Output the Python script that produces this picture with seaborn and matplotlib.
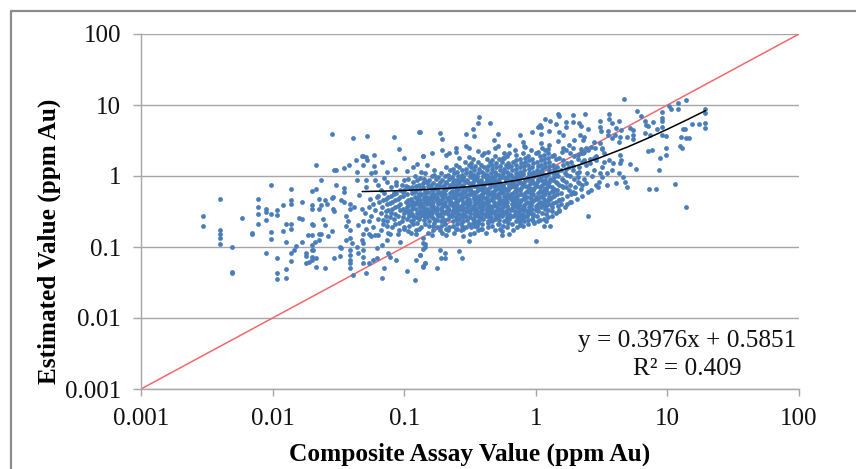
import matplotlib
matplotlib.use("Agg")
import matplotlib.pyplot as plt
import numpy as np
import pandas as pd
import seaborn as sns
from matplotlib.lines import Line2D

W, H = 856, 469

# axis ticks
tick_values = [0.001, 0.01, 0.1, 1, 10, 100]
tick_labels = ["0.001", "0.01", "0.1", "1", "10", "100"]

# one-to-one reference line and the linear trend
ref_line = [0.001, 100]
trend_x = [0.048, 0.07, 0.1, 0.2, 0.3, 0.5, 0.7, 1, 1.5, 2, 3, 5, 7, 10, 14, 19.5]
trend_y = [0.604, 0.613, 0.625, 0.665, 0.704, 0.784, 0.863, 0.983, 1.18, 1.38, 1.78, 2.57, 3.37, 4.56, 6.15, 8.34]

# samples, as (log10 assay, log10 estimate)
low_tail = [
    (-2.53, -0.57), (-2.53, -0.70), (-2.40, -0.33), (-2.40, -0.76), (-2.40, -0.82), (-2.40, -0.88), (-2.40, -0.96),
    (-2.31, -1.00), (-2.31, -1.35), (-2.31, -1.37), (-2.23, -0.59), (-2.16, -0.80), (-2.16, -0.81), (-2.11, -0.33),
    (-2.11, -0.43), (-2.11, -0.54), (-2.11, -0.67), (-2.05, -0.46), (-2.05, -0.51), (-2.05, -0.62), (-2.05, -1.09),
    (-2.01, -0.13), (-2.01, -0.54), (-2.01, -0.79), (-2.01, -0.89), (-1.97, -0.48), (-1.97, -0.55), (-1.97, -1.15),
    (-1.97, -1.37), (-1.97, -1.45), (-1.92, -0.41), (-1.92, -0.78), (-1.90, -0.67), (-1.90, -0.93), (-1.90, -1.31),
    (-1.90, -1.44), (-1.86, -0.19), (-1.86, -0.34), (-1.86, -0.40), (-1.86, -0.67), (-1.86, -0.74), (-1.86, -1.08),
    (-1.86, -1.20), (-1.78, -0.37),
]
mid_left = [
    (-1.70, -0.21), (-1.67, -0.18), (-1.70, -0.41), (-1.70, -0.46), (-1.65, -0.32), (-1.65, -0.46), (-1.60, -0.34),
    (-1.59, -0.39), (-1.63, -0.41), (-1.67, 0.15), (-1.63, -0.06), (-1.55, 0.59), (-1.39, 0.54), (-1.28, 0.57),
    (-1.08, 0.55), (-0.89, 0.62), (-1.04, 0.38), (-1.00, 0.25), (-0.86, 0.28), (-1.53, 0.09), (-1.52, 0.09),
    (-1.42, 0.15), (-1.46, 0.11), (-1.37, 0.23), (-1.32, 0.28), (-1.31, 0.28), (-1.29, 0.27), (-1.28, 0.23),
    (-1.23, 0.30), (-1.17, 0.20), (-1.23, 0.14), (-1.31, 0.15), (-1.36, 0.06), (-1.52, -0.13), (-1.46, -0.17),
    (-1.46, -0.22), (-1.54, -0.29), (-1.55, -0.31), (-1.48, -0.34), (-1.46, -0.36), (-1.54, -0.46), (-1.53, -0.49),
    (-1.41, -0.39), (-1.41, -0.46), (-1.38, -0.43), (-1.32, -0.46), (-1.27, -0.43), (-1.80, -0.59), (-1.78, -0.61),
    (-1.70, -0.67), (-1.69, -0.69), (-1.62, -0.61), (-1.60, -0.69), (-1.55, -0.78), (-1.58, -0.85), (-1.63, -0.81),
    (-1.65, -0.81), (-1.70, -0.83), (-1.73, -0.83), (-1.65, -0.90), (-1.68, -0.93), (-1.70, -0.97), (-1.69, -1.04),
    (-1.78, -0.93), (-1.82, -0.99), (-1.84, -1.04), (-1.75, -1.08), (-1.75, -1.13), (-1.70, -1.04), (-1.70, -1.14),
    (-1.70, -1.19), (-1.75, -1.23), (-1.72, -1.21), (-1.67, -1.16), (-1.67, -1.28), (-1.60, -1.30), (-1.53, -1.15),
    (-1.49, -1.12), (-1.49, -1.00), (-1.48, -1.02), (-1.44, -0.90), (-1.41, -0.88), (-1.40, -0.95), (-1.41, -1.04),
    (-1.41, -1.11), (-1.41, -1.18), (-1.41, -1.23), (-1.41, -1.30), (-1.39, -1.39), (-1.36, -1.00), (-1.35, -1.09),
    (-1.32, -0.90), (-1.31, -0.95), (-1.31, -1.04), (-1.31, -1.14), (-1.31, -1.23), (-1.29, -1.37), (-1.27, -1.23),
    (-1.24, -1.18), (-1.21, -1.16), (-1.21, -1.02), (-1.17, -0.97), (-1.17, -1.44), (-1.15, -1.30), (-1.12, -1.09),
    (-1.11, -1.14), (-1.06, -1.18), (-0.98, -1.34), (-0.92, -1.47), (-0.91, -1.18), (-0.88, -1.11), (-0.84, -1.23),
    (-0.86, -1.28), (-1.44, -0.57), (-1.43, -0.64), (-1.44, -0.71), (-1.41, -0.76), (-1.35, -0.69), (-1.31, -0.64),
    (-1.29, -0.74), (-1.31, -0.81), (-1.27, -0.81), (-1.25, -0.85), (-1.22, -0.83), (-1.20, -0.83), (-1.13, -0.90),
    (-1.11, -0.81), (-1.05, -0.81), (-1.03, -0.93), (-0.97, -0.78), (-0.91, -0.81), (-0.86, -0.95), (-0.84, -1.00),
    (-1.22, 0.06), (-1.25, 0.04), (-1.15, -0.03), (-1.13, 0.06), (-1.07, 0.10), (-0.98, 0.07), (-0.93, 0.13),
    (-0.90, 0.17), (-0.83, 0.155), (-0.87, 0.06), (-1.13, -0.08), (-1.06, -0.13), (-1.00, -0.06), (-0.94, -0.15),
    (-0.88, -0.03), (-0.83, -0.08), (-1.22, -0.06), (-1.20, -0.13), (-1.29, -0.06), (-1.36, -0.06), (-1.29, -0.15),
    (-1.34, -0.27), (-1.21, -0.29), (-1.16, -0.34), (-1.08, -0.24), (-1.00, -0.20),
]
upper_right = [
    (0.67, 1.08), (1.14, 1.07), (1.08, 1.03), (1.08, 0.94), (1.01, 0.98), (1.03, 0.94), (0.96, 0.90), (0.96, 0.81),
    (0.96, 0.77), (1.285, 0.95), (1.285, 0.89), (1.285, 0.74), (1.285, 0.67), (1.24, 0.73), (1.19, 0.73), (0.77, 0.92),
    (0.80, 0.85), (0.83, 0.77), (0.84, 0.72), (0.89, 0.76), (0.85, 0.70), (0.83, 0.61), (0.87, 0.58), (0.92, 0.66),
    (0.96, 0.69), (0.96, 0.58), (0.99, 0.57), (1.12, 0.66), (1.13, 0.66), (1.10, 0.55), (1.145, 0.54), (1.165, 0.54),
    (1.095, 0.42), (1.11, 0.39), (0.99, 0.39), (0.99, 0.30), (0.85, 0.35), (0.88, 0.37), (0.94, 0.25), (0.935, 0.08),
    (0.86, -0.18), (0.91, -0.18), (1.06, -0.11), (1.14, -0.43), (0.56, 0.87), (0.56, 0.80), (0.58, 0.74), (0.63, 0.77),
    (0.49, 0.77), (0.49, 0.69), (0.495, 0.64), (0.55, 0.64), (0.61, 0.67), (0.65, 0.65), (0.715, 0.67), (0.74, 0.65),
    (0.69, 0.55), (0.64, 0.55), (0.635, 0.48), (0.55, 0.58), (0.60, 0.58), (0.74, 0.58), (0.74, 0.52), (0.58, 0.54),
    (0.375, 0.88), (0.285, 0.86), (0.285, 0.76), (0.165, 0.88), (0.18, 0.85), (0.23, 0.76), (0.23, 0.69), (0.33, 0.74),
    (0.34, 0.70), (0.40, 0.66), (0.18, 0.62), (0.21, 0.58), (0.11, 0.77), (0.07, 0.80), (0.15, 0.73), (0.03, 0.72),
    (0.02, 0.69), (0.04, 0.69), (0.10, 0.64), (-0.03, 0.62), (0.04, 0.59), (-0.12, 0.58), (-0.10, 0.48), (-0.09, 0.42),
    (-0.20, 0.44), (-0.08, 0.41), (0.04, 0.47), (0.165, 0.49), (0.29, 0.51), (0.335, 0.58), (0.37, 0.55), (0.36, 0.51),
    (-0.43, 0.83), (-0.44, 0.74), (-0.35, 0.74), (-0.48, 0.66), (-0.53, 0.59), (-0.47, 0.57), (-0.29, 0.59), (-0.32, 0.50),
    (-0.73, 0.61), (-0.715, 0.52), (-0.88, 0.62), (-0.53, 0.42), (-0.51, 0.40), (-0.61, 0.40), (-0.715, 0.37), (-0.79, 0.32),
    (-0.86, 0.28), (-0.68, 0.30), (-0.66, 0.32), (-0.61, 0.34), (-0.44, 0.35), (-0.36, 0.34), (-0.39, 0.32), (-0.31, 0.39),
    (-0.29, 0.42), (-0.41, 0.30), (-0.51, 0.27), (-0.58, 0.26), (-0.16, 0.36), (-0.25, 0.25), (-0.20, 0.32), (0.44, 0.48),
    (0.49, 0.46), (0.42, 0.41), (0.50, 0.39), (0.385, 0.39), (0.36, 0.32), (0.46, 0.225), (0.56, 0.225), (0.59, 0.18),
    (0.64, 0.30), (0.65, 0.225), (0.64, 0.18), (0.715, 0.165), (0.76, 0.10), (0.58, 0.085), (0.54, 0.04), (0.49, 0.04),
    (0.50, -0.01), (0.635, 0.04), (0.66, -0.01), (0.68, -0.08), (0.61, -0.10), (0.54, -0.13), (0.46, -0.13), (0.385, -0.10),
    (0.69, -0.15), (0.23, -0.15), (0.285, -0.22), (0.30, -0.24), (0.26, -0.36), (0.40, -0.23), (0.40, -0.56), (0.18, -0.34),
    (0.18, -0.50),
]
lower_edge = [
    (0.00, -0.92), (0.11, -0.71), (0.06, -0.71), (0.08, -0.63), (-0.02, -0.57), (-0.02, -0.64), (-0.07, -0.50),
    (-0.12, -0.57), (-0.12, -0.69), (-0.17, -0.76), (-0.20, -0.81), (-0.26, -0.77), (-0.26, -0.83), (-0.29, -0.67),
    (-0.36, -0.64), (-0.42, -0.74), (-0.46, -0.71), (-0.50, -0.82), (-0.505, -0.92), (-0.55, -0.74), (-0.55, -0.85),
    (-0.61, -0.75), (-0.58, -1.06), (-0.56, -1.16), (-0.69, -1.08), (-0.69, -1.15), (-0.73, -1.04), (-0.72, -1.15),
    (-0.75, -1.30), (-0.84, -1.23), (-0.855, -1.27), (-0.88, -1.11), (-0.855, -1.03), (-0.84, -0.96), (-0.855, -0.88),
    (-0.68, -0.83), (-0.665, -0.76), (-0.79, -0.83), (-0.78, -0.71),
]
# dense middle of the cloud, by log10 estimate: the log10 assays at that level
core_rows = {
    -0.80: [-1.12, -0.95, -0.82, -0.71, -0.62, -0.47, -0.38],
    -0.76: [-1.18, -1.04, -0.91, -0.78, -0.73, -0.57, -0.44, -0.31],
    -0.72: [-1.24, -1.09, -1.0, -0.87, -0.75, -0.66, -0.53, -0.49, -0.36, -0.22, -0.14],
    -0.68: [-1.16, -1.07, -0.93, -0.84, -0.69, -0.6, -0.51, -0.41, -0.28, -0.18, -0.06],
    -0.64: [-1.27, -1.13, -1.02, -0.95, -0.81, -0.72, -0.63, -0.55, -0.46, -0.33, -0.24, -0.15, -0.09, 0.02],
    -0.60: [-1.2, -1.08, -0.98, -0.89, -0.77, -0.67, -0.58, -0.48, -0.4, -0.31, -0.2, -0.11, -0.03, 0.06],
    -0.56: [-1.25, -1.14, -1.05, -0.93, -0.85, -0.74, -0.64, -0.53, -0.44, -0.36, -0.26, -0.17, -0.07, 0.01, 0.12],
    -0.52: [-1.3, -1.18, -1.1, -1.0, -0.9, -0.79, -0.7, -0.61, -0.5, -0.42, -0.34, -0.23, -0.13, -0.04, 0.05, 0.15],
    -0.48: [-1.22, -1.12, -1.03, -0.95, -0.84, -0.75, -0.66, -0.56, -0.47, -0.38, -0.29, -0.19, -0.1, 0.0, 0.09, 0.18],
    -0.44: [-1.17, -1.07, -0.98, -0.88, -0.8, -0.71, -0.6, -0.52, -0.43, -0.33, -0.25, -0.14, -0.05, 0.04, 0.12, 0.22],
    -0.40: [-1.24, -1.13, -1.03, -0.92, -0.83, -0.74, -0.65, -0.55, -0.46, -0.37, -0.27, -0.18, -0.08, 0.02, 0.1, 0.19, 0.24],
    -0.36: [-1.19, -1.09, -0.99, -0.9, -0.78, -0.69, -0.6, -0.5, -0.41, -0.32, -0.22, -0.12, -0.03, 0.07, 0.15, 0.27],
    -0.32: [-1.26, -1.14, -1.05, -0.95, -0.85, -0.76, -0.67, -0.57, -0.47, -0.38, -0.28, -0.19, -0.09, 0.01, 0.11, 0.2, 0.31],
    -0.28: [-1.2, -1.1, -1.01, -0.89, -0.8, -0.71, -0.61, -0.53, -0.43, -0.33, -0.24, -0.14, -0.04, 0.05, 0.14, 0.24, 0.35],
    -0.24: [-1.15, -1.06, -0.94, -0.84, -0.74, -0.65, -0.56, -0.46, -0.37, -0.27, -0.17, -0.08, 0.02, 0.1, 0.19, 0.29],
    -0.20: [-1.18, -1.03, -0.91, -0.79, -0.69, -0.6, -0.5, -0.41, -0.31, -0.21, -0.12, -0.02, 0.08, 0.16, 0.25, 0.42],
    -0.16: [-1.1, -0.97, -0.86, -0.76, -0.66, -0.55, -0.45, -0.35, -0.25, -0.16, -0.06, 0.03, 0.12, 0.21, 0.3, 0.47],
    -0.12: [-1.02, -0.89, -0.8, -0.7, -0.61, -0.49, -0.39, -0.3, -0.2, -0.1, 0.0, 0.09, 0.18, 0.26, 0.35],
    -0.08: [-1.06, -0.93, -0.83, -0.73, -0.63, -0.53, -0.43, -0.34, -0.23, -0.13, -0.04, 0.06, 0.15, 0.23, 0.32, 0.48],
    -0.04: [-0.97, -0.85, -0.76, -0.66, -0.57, -0.47, -0.37, -0.28, -0.18, -0.08, 0.02, 0.11, 0.2, 0.29, 0.37],
    0.00: [-0.92, -0.79, -0.69, -0.59, -0.5, -0.4, -0.31, -0.21, -0.11, -0.01, 0.08, 0.17, 0.26, 0.43],
    0.04: [-0.84, -0.72, -0.62, -0.53, -0.44, -0.34, -0.25, -0.15, -0.05, 0.05, 0.13, 0.22, 0.31, 0.39],
    0.08: [-0.77, -0.65, -0.56, -0.47, -0.37, -0.27, -0.18, -0.09, 0.01, 0.1, 0.19, 0.28, 0.44],
    0.12: [-0.68, -0.58, -0.49, -0.39, -0.3, -0.21, -0.12, -0.03, 0.07, 0.16, 0.25, 0.33, 0.5],
    0.16: [-0.61, -0.51, -0.42, -0.33, -0.23, -0.15, -0.06, 0.04, 0.13, 0.21, 0.38],
    0.20: [-0.54, -0.44, -0.35, -0.26, -0.17, -0.08, 0.01, 0.1, 0.27, 0.35, 0.52],
    0.24: [-0.48, -0.37, -0.28, -0.12, -0.03, 0.06, 0.15, 0.32, 0.41],
    0.28: [-0.31, -0.22, -0.06, 0.03, 0.12, 0.29, 0.46],
    0.32: [-0.24, -0.1, 0.0, 0.09, 0.26, 0.34, 0.52],
    0.36: [-0.04, 0.07, 0.23, 0.4],
    0.40: [0.05, 0.21, 0.28, 0.45],
    0.44: [0.1, 0.25],
}
# second pass over the same band, the points between those above
infill_rows = {
    -0.74: [-1.0, -0.89, -0.68, -0.6, -0.41, -0.27],
    -0.70: [-1.13, -0.96, -0.81, -0.72, -0.63, -0.56, -0.45, -0.33, -0.25, -0.1],
    -0.66: [-1.04, -0.9, -0.77, -0.7, -0.57, -0.48, -0.44, -0.36, -0.21, -0.12, -0.01],
    -0.62: [-1.16, -0.93, -0.85, -0.75, -0.69, -0.6, -0.52, -0.43, -0.35, -0.28, -0.23, -0.13, -0.06, 0.03],
    -0.58: [-1.11, -1.01, -0.91, -0.83, -0.79, -0.71, -0.61, -0.55, -0.5, -0.42, -0.34, -0.29, -0.22, -0.14, -0.09, 0.09],
    -0.54: [-1.07, -0.96, -0.87, -0.81, -0.73, -0.67, -0.58, -0.47, -0.39, -0.31, -0.28, -0.2, -0.1, -0.02, 0.08],
    -0.50: [-1.14, -0.97, -0.86, -0.82, -0.76, -0.68, -0.63, -0.53, -0.45, -0.36, -0.31, -0.26, -0.16, -0.07, 0.02, 0.12],
    -0.46: [-1.09, -1.01, -0.91, -0.83, -0.77, -0.72, -0.62, -0.58, -0.49, -0.41, -0.35, -0.27, -0.21, -0.12, -0.03, 0.07],
    -0.42: [-1.05, -0.94, -0.86, -0.78, -0.68, -0.63, -0.57, -0.48, -0.4, -0.35, -0.3, -0.22, -0.16, -0.1, 0.0, 0.08, 0.17],
    -0.38: [-1.11, -0.95, -0.87, -0.81, -0.72, -0.62, -0.53, -0.44, -0.39, -0.29, -0.24, -0.15, -0.05, 0.05, 0.13],
    -0.34: [-1.07, -0.97, -0.88, -0.82, -0.74, -0.65, -0.59, -0.52, -0.44, -0.35, -0.25, -0.17, -0.11, -0.01, 0.09, 0.18],
    -0.30: [-1.12, -1.03, -0.92, -0.83, -0.78, -0.69, -0.63, -0.55, -0.45, -0.4, -0.31, -0.21, -0.16, -0.07, 0.03, 0.12],
    -0.26: [-1.08, -0.98, -0.87, -0.77, -0.72, -0.63, -0.58, -0.49, -0.41, -0.35, -0.29, -0.19, -0.11, -0.02, 0.07, 0.16, 0.27],
    -0.22: [-1.01, -0.92, -0.82, -0.71, -0.62, -0.54, -0.48, -0.39, -0.33, -0.25, -0.15, -0.05, 0.05, 0.13],
    -0.18: [-0.95, -0.88, -0.77, -0.68, -0.58, -0.52, -0.43, -0.37, -0.28, -0.23, -0.14, -0.04, 0.06, 0.14, 0.34],
    -0.14: [-0.99, -0.91, -0.82, -0.73, -0.63, -0.57, -0.47, -0.41, -0.32, -0.27, -0.18, -0.08, 0.01, 0.1, 0.2],
    -0.10: [-0.86, -0.78, -0.68, -0.59, -0.51, -0.41, -0.36, -0.27, -0.17, -0.11, -0.02, 0.07, 0.16, 0.33],
    -0.06: [-0.9, -0.81, -0.71, -0.6, -0.55, -0.45, -0.35, -0.31, -0.21, -0.15, -0.06, 0.04, 0.13, 0.21],
    -0.02: [-0.74, -0.64, -0.55, -0.49, -0.38, -0.33, -0.24, -0.14, -0.06, 0.03, 0.14, 0.32],
    0.02: [-0.77, -0.67, -0.56, -0.47, -0.37, -0.28, -0.19, -0.13, -0.03, 0.07, 0.15, 0.24],
    0.06: [-0.6, -0.5, -0.41, -0.31, -0.22, -0.12, -0.02, 0.03, 0.16, 0.33],
    0.10: [-0.63, -0.53, -0.43, -0.33, -0.24, -0.15, -0.05, 0.05, 0.14, 0.23],
    0.14: [-0.46, -0.36, -0.27, -0.19, -0.09, 0.02, 0.1, 0.28],
    0.18: [-0.49, -0.3, -0.21, -0.11, -0.02, 0.07, 0.24, 0.41],
    0.22: [-0.33, -0.15, -0.05, 0.04, 0.21, 0.37],
    0.26: [-0.24, -0.08, 0.09, 0.18, 0.44],
    0.30: [-0.15, 0.06, 0.14, 0.32],
    0.34: [0.02, 0.2, 0.37],
    0.38: [0.09, 0.34, 0.5],
}
# third pass, only where the cloud is nearly solid
solid_rows = {
    -0.57: [-0.96, -0.88, -0.8, -0.65, -0.56, -0.46, -0.38, -0.3, -0.19, -0.11],
    -0.53: [-0.94, -0.84, -0.75, -0.64, -0.55, -0.45, -0.37, -0.25, -0.16, -0.06],
    -0.49: [-0.99, -0.88, -0.8, -0.71, -0.6, -0.51, -0.42, -0.33, -0.23, -0.13, -0.05],
    -0.45: [-0.93, -0.85, -0.75, -0.67, -0.55, -0.46, -0.37, -0.29, -0.18, -0.09, 0.01],
    -0.41: [-0.97, -0.89, -0.79, -0.7, -0.6, -0.51, -0.42, -0.32, -0.23, -0.13, -0.04, 0.06],
    -0.37: [-0.93, -0.84, -0.74, -0.65, -0.55, -0.46, -0.36, -0.27, -0.17, -0.07, 0.03],
    -0.33: [-0.9, -0.8, -0.71, -0.61, -0.51, -0.42, -0.33, -0.23, -0.14, -0.04, 0.06],
    -0.29: [-0.85, -0.75, -0.66, -0.57, -0.47, -0.37, -0.28, -0.19, -0.09, 0.0, 0.1],
    -0.25: [-0.89, -0.79, -0.69, -0.6, -0.51, -0.41, -0.32, -0.22, -0.12, -0.03, 0.06],
    -0.21: [-0.84, -0.74, -0.64, -0.55, -0.45, -0.36, -0.26, -0.16, -0.07, 0.03, 0.12],
    -0.17: [-0.8, -0.7, -0.61, -0.5, -0.4, -0.3, -0.2, -0.11, -0.01, 0.08],
    -0.13: [-0.75, -0.65, -0.55, -0.44, -0.34, -0.25, -0.15, -0.05, 0.05],
    -0.09: [-0.68, -0.58, -0.48, -0.38, -0.29, -0.19, -0.09, 0.01, 0.1],
    -0.05: [-0.62, -0.52, -0.42, -0.32, -0.23, -0.13, -0.03, 0.07],
    -0.01: [-0.55, -0.45, -0.36, -0.26, -0.16, -0.06, 0.04],
    0.03: [-0.49, -0.39, -0.3, -0.2, -0.1, 0.0, 0.09],
}

rows = [core_rows, infill_rows, solid_rows]
core = [(x, y) for group in rows for y, xs in group.items() for x in xs]
samples = pd.DataFrame(low_tail + mid_left + upper_right + lower_edge + core, columns=["log_x", "log_y"])
samples["assay"] = 10 ** samples["log_x"]
samples["estimate"] = 10 ** samples["log_y"]

sns.set_theme(style="white")
plt.rcParams["font.family"] = ["Liberation Serif", "DejaVu Serif"]

fig = plt.figure(figsize=(W / 100, H / 100), dpi=100)
ax = fig.add_axes([141 / W, 1 - 389 / H, (799 - 141) / W, (389 - 34) / H])

sns.lineplot(x=ref_line, y=ref_line, color="#F2686B", linewidth=1.1, ax=ax, zorder=2)
sns.scatterplot(data=samples, x="assay", y="estimate", color="#4A7EBB", s=12, linewidth=0, ax=ax, zorder=3)
sns.lineplot(x=trend_x, y=trend_y, color="black", linewidth=1.1, ax=ax, zorder=4)

ax.set_xscale("log")
ax.set_yscale("log")
ax.set_xlim(0.001, 100)
ax.set_ylim(0.001, 100)
ax.set_xticks(tick_values, labels=tick_labels)
ax.set_yticks(tick_values, labels=tick_labels)
ax.minorticks_off()
ax.set_xlabel("")
ax.set_ylabel("")

ax.grid(True, axis="y", color="#A6A6A6", linewidth=1.0)
ax.set_axisbelow(True)
sns.despine(ax=ax)
for side in ["left", "bottom"]:
    ax.spines[side].set_color("#A6A6A6")
    ax.spines[side].set_linewidth(1.0)
ax.tick_params(axis="x", which="major", bottom=True, length=5, width=1, color="#A6A6A6",
               labelsize=18, labelcolor="#111111", pad=9)
ax.tick_params(axis="y", which="major", left=True, length=5.8, width=1, color="#A6A6A6",
               labelsize=18, labelcolor="#111111", pad=8.5)

fig.text(470 / W, 1 - 454 / H, "Composite Assay Value (ppm Au)", ha="center", va="center",
         fontsize=18.3, fontweight="bold", color="black")
fig.text(49 / W, 1 - 241 / H, "Estimated Value (ppm Au)", ha="center", va="center", rotation=90,
         fontsize=18.2, fontweight="bold", color="black")
fig.text(687 / W, 1 - 341 / H, "y = 0.3976x + 0.5851", ha="center", va="center", fontsize=18.2, color="#111111")
fig.text(687 / W, 1 - 369 / H, "R² = 0.409", ha="center", va="center", fontsize=18.2, color="#111111")

# chart frame, cut off by the screenshot on the right and at the bottom
frame = dict(color="#8C8C8C", linewidth=1.6, transform=fig.transFigure)
fig.add_artist(Line2D([11 / W, 1], [1 - 11 / H, 1 - 11 / H], **frame))
fig.add_artist(Line2D([11 / W, 11 / W], [0, 1 - 11 / H], **frame))

fig.savefig("out.png", dpi=100)
